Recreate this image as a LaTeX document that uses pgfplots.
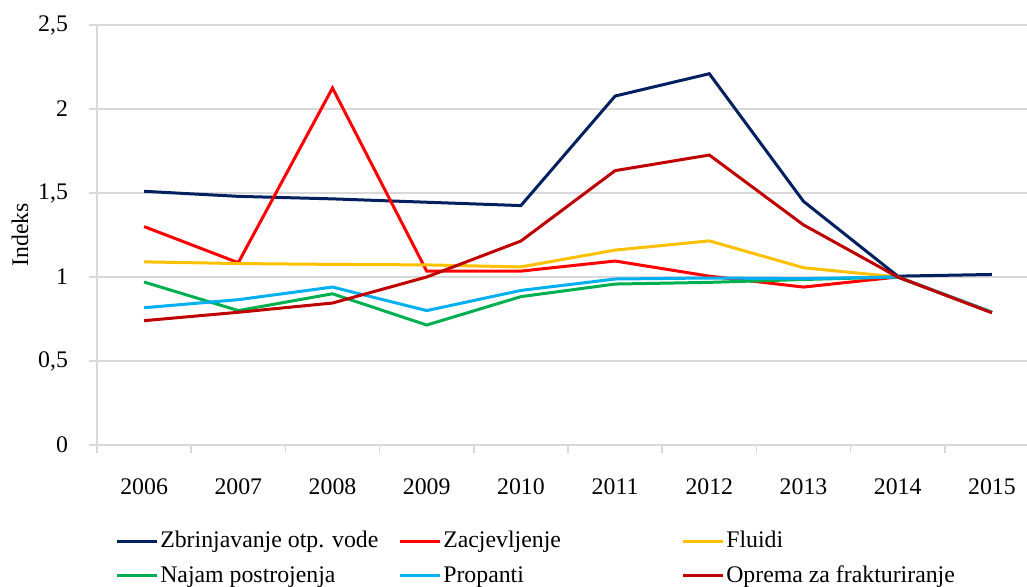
\documentclass[border=0pt]{standalone}
\usepackage{fontspec}
\setmainfont{Liberation Serif}
\usepackage{pgfplots}
\pgfplotsset{compat=1.18}

\definecolor{gridgray}{RGB}{217,217,217}
\definecolor{cNavy}{RGB}{0,32,96}
\definecolor{cRed}{RGB}{255,0,0}
\definecolor{cYellow}{RGB}{255,192,0}
\definecolor{cGreen}{RGB}{0,176,80}
\definecolor{cBlue}{RGB}{0,176,240}
\definecolor{cDark}{RGB}{192,0,0}

\begin{document}
\begin{tikzpicture}[font=\fontsize{11.9}{14}\selectfont]
\useasboundingbox (0,0) rectangle (513.5pt,293.5pt);
\begin{axis}[
    at={(48.5pt,71pt)}, anchor=south west,
    scale only axis,
    width=471pt, height=210pt,
    xmin=2005.5, xmax=2015.5,
    ymin=0, ymax=2.5,
    xtick={2006,2007,2008,2009,2010,2011,2012,2013,2014,2015},
    xticklabels={2006,2007,2008,2009,2010,2011,2012,2013,2014,2015},
    minor xtick={2005.5,2006.5,2007.5,2008.5,2009.5,2010.5,2011.5,2012.5,2013.5,2014.5,2015.5},
    ytick={0,0.5,1,1.5,2,2.5},
    /pgf/number format/use comma,
    /pgf/number format/assume math mode=true,
    axis x line*=bottom, axis y line*=left,
    axis line style={draw=gridgray, line width=0.75pt, -},
    tick align=outside,
    major tick length=4pt, minor tick length=4pt,
    xtick style={draw=none},
    minor x tick style={draw=gridgray, line width=0.75pt},
    ytick style={draw=gridgray, line width=0.75pt},
    ymajorgrids,
    major grid style={draw=gridgray, line width=0.75pt},
    xticklabel style={yshift=-9.5pt},
    yticklabel style={xshift=-7pt},
    ylabel={Indeks},
    every axis y label/.style={at={(axis description cs:0,0.5)}, xshift=-38.5pt, rotate=90, anchor=center},
    legend columns=3,
    legend cell align=left,
    legend style={at={(0.019,-0.2)}, anchor=north west, draw=none, fill=none,
        inner sep=0pt, row sep=5.5pt,
        nodes={inner sep=1pt}},
    legend image code/.code={\draw[#1, line width=1.5pt] (0pt,0pt) -- (20pt,0pt);},
    every axis plot/.append style={line width=1.5pt, mark=none},
]
\addplot[cNavy] coordinates {
    (2006,1.51)(2007,1.48)(2008,1.465)(2009,1.445)(2010,1.425)(2011,2.077)(2012,2.21)(2013,1.45)(2014,1.005)(2015,1.015)
};
\addlegendentry{\makebox[118pt][l]{Zbrinjavanje otp. vode}}
\addplot[cRed] coordinates {
    (2006,1.30)(2007,1.085)(2008,2.125)(2009,1.035)(2010,1.035)(2011,1.095)(2012,1.005)(2013,0.94)(2014,1.0)(2015,0.79)
};
\addlegendentry{\makebox[118pt][l]{Zacjevljenje}}
\addplot[cYellow] coordinates {
    (2006,1.09)(2007,1.08)(2008,1.075)(2009,1.072)(2010,1.06)(2011,1.16)(2012,1.215)(2013,1.055)(2014,1.0)(2015,0.79)
};
\addlegendentry{\makebox[118pt][l]{Fluidi}}
\addplot[cGreen] coordinates {
    (2006,0.97)(2007,0.80)(2008,0.90)(2009,0.714)(2010,0.883)(2011,0.958)(2012,0.968)(2013,0.985)(2014,1.0)(2015,0.79)
};
\addlegendentry{\makebox[118pt][l]{Najam postrojenja}}
\addplot[cBlue] coordinates {
    (2006,0.817)(2007,0.865)(2008,0.94)(2009,0.80)(2010,0.92)(2011,0.988)(2012,0.994)(2013,0.99)(2014,1.0)(2015,0.79)
};
\addlegendentry{\makebox[118pt][l]{Propanti}}
\addplot[cDark] coordinates {
    (2006,0.74)(2007,0.79)(2008,0.845)(2009,1.0)(2010,1.214)(2011,1.633)(2012,1.726)(2013,1.31)(2014,1.0)(2015,0.787)
};
\addlegendentry{\makebox[118pt][l]{Oprema za frakturiranje}}
\end{axis}
\end{tikzpicture}
\end{document}
